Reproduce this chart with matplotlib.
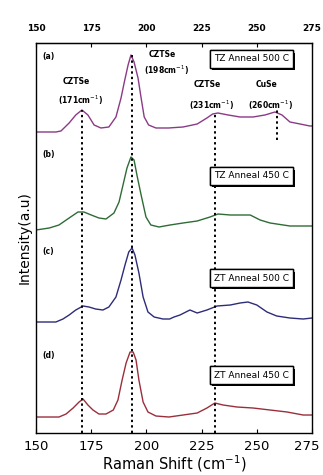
import numpy as np
import matplotlib
matplotlib.use("Agg")
import matplotlib.pyplot as plt
import matplotlib.patheffects as pe
import matplotlib.transforms as mtransforms

# Raman spectra (intensity above each baseline, a.u.)
shift_a = [150, 159, 161.3, 165, 168, 170.8, 173.5, 176.3, 179.4, 183, 186.2, 188.5, 190, 191.7,
           193, 194.4, 196.2, 197.6, 199, 201, 204.3, 210, 216.6, 223, 227.4, 230, 232.4, 237,
           242.4, 248.3, 253.7, 258.2, 261.4, 265, 269.6, 274, 275]
int_a = [0, 0, 1, 9, 17, 22, 17, 7, 4, 5, 15, 34, 50, 67,
         77, 70, 54, 34, 15, 7, 4, 4, 5, 8, 14, 18, 19, 17,
         15, 15, 17, 20, 17, 10, 8, 6, 6]

shift_b = [150, 156, 160.4, 165, 169, 171.7, 175, 178.5, 181.7, 185.3, 187.6, 189.4, 191.2, 193,
           194.4, 195.7, 197.6, 199.8, 202, 205.7, 210.7, 216.6, 223, 228.8, 232.4, 238, 247,
           251.5, 256, 262, 265, 274, 275]
int_b = [0, 2, 5, 12, 18, 18, 15, 12, 11, 17, 28, 45, 62, 73,
         70, 55, 35, 13, 5, 3, 5, 7, 9, 13, 16, 15, 15,
         10, 7, 5, 4, 4, 4]

shift_c = [150, 159, 162.2, 165, 168, 171.3, 174, 177, 180.3, 183, 186.2, 188.5, 190.3, 192,
           193.5, 194.8, 196.6, 198.5, 200.7, 203.5, 207.5, 210.5, 212.5, 215.2, 219.7, 223,
           227.4, 232, 238, 242.4, 246, 250, 254.6, 259, 265, 271, 275]
int_c = [0, 0, 3, 7, 12, 16, 15, 13, 12, 15, 25, 42, 57, 70,
         74, 67, 49, 25, 10, 5, 3, 3, 5, 7, 12, 9,
         12, 16, 17, 19, 20, 17, 10, 6, 4, 3, 4]

shift_d = [150, 160.4, 163.6, 166.8, 169.5, 171.3, 173.5, 175.8, 178.5, 181.7, 185, 187.1, 189,
           190.8, 192.6, 194, 195.3, 196.6, 198.5, 200.7, 204.3, 210.2, 216.6, 223, 227.4, 231,
           234.7, 241, 248.3, 256, 263.7, 271, 275]
int_d = [0, 0, 3, 9, 15, 18, 12, 7, 3, 3, 7, 17, 37,
         54, 65, 65, 57, 37, 15, 5, 1, 0, 2, 4, 9, 14,
         12, 10, 9, 7, 5, 2, 2]

offsets = [301, 203, 111, 16]
colors = ['#8a3a86', '#2f6b35', '#2c2c78', '#9a2f3c']
panel = ['(a)', '(b)', '(c)', '(d)']
samples = ['TZ Anneal 500 C', 'TZ Anneal 450 C', 'ZT Anneal 500 C', 'ZT Anneal 450 C']

# peak markers: position, bottom, top
peak_pos = [171, 193.5, 231, 259]
peak_lo = [0, 0, 0, 293]
peak_hi = [323, 378, 321, 323]
peak_name = ['CZTSe', 'CZTSe', 'CZTSe', 'CuSe']
peak_wn = ['171', '198', '231', '260']

xticks = [150, 175, 200, 225, 250, 275]

fig = plt.figure(figsize=(3.23, 4.75), dpi=100)
ax = fig.add_axes([0.1115, 0.0884, 0.8545, 0.8211])

shifts = [shift_a, shift_b, shift_c, shift_d]
ints = [int_a, int_b, int_c, int_d]
for s, v, off, col in zip(shifts, ints, offsets, colors):
    ax.plot(s, np.array(v) + off, color=col, lw=1.0)

for p, lo, hi in zip(peak_pos, peak_lo, peak_hi):
    ax.vlines(p, lo, hi, colors='black', linestyles=(0, (1.2, 1.6)), lw=1.4)

# peak annotations
ann_x = [168, 207, 227.4, 254.6]
ann_x2 = [170, 209, 229.3, 256]
ann_y = [351, 378, 348, 348]
ann_y2 = [333, 363, 328, 328]
for x1, x2, y1, y2, nm, wn in zip(ann_x, ann_x2, ann_y, ann_y2, peak_name, peak_wn):
    ax.text(x1, y1, nm, fontsize=5.5, fontweight='bold', ha='center', va='center')
    ax.text(x2, y2, '(' + wn + 'cm$^{-1}$)', fontsize=5.5, fontweight='bold', ha='center', va='center')

# panel labels and sample boxes
lab_y = [376, 278, 181, 78]
box_y = [374, 257, 155, 58]
for ly, by, lab, smp in zip(lab_y, box_y, panel, samples):
    ax.text(153, ly, lab, fontsize=5.5, fontweight='bold', ha='left', va='center')
    t = ax.text(247.5, by, smp, fontsize=6.5, ha='center', va='center',
                bbox=dict(boxstyle='square,pad=0.45', fc='white', ec='black', lw=1.0))
    t.get_bbox_patch().set_path_effects([pe.withSimplePatchShadow(offset=(1.5, -1.5), shadow_rgbFace='black', alpha=1.0), pe.Normal()])

ax.set_xlim(150, 275)
ax.set_ylim(0, 390)
ax.set_xticks(xticks)
ax.set_yticks([])
ax.tick_params(axis='x', direction='in', length=3, labelsize=9.5, pad=5)
ax.set_xlabel('Raman Shift (cm$^{-1}$)', fontsize=10.5, labelpad=0)
ax.set_ylabel('Intensity(a.u)', fontsize=10, labelpad=3)
for sp in ax.spines.values():
    sp.set_linewidth(1.0)

# keep the last bottom label inside the canvas
last = ax.get_xticklabels()[-1]
last.set_transform(last.get_transform() + mtransforms.ScaledTranslation(-4 / 72, 0, fig.dpi_scale_trans))

top = ax.secondary_xaxis('top')
top.set_xticks(xticks)
top.tick_params(direction='in', length=3, labelsize=6.5, pad=7)
for lbl in top.get_xticklabels():
    lbl.set_fontweight('bold')

fig.savefig('out.png', dpi=100)
